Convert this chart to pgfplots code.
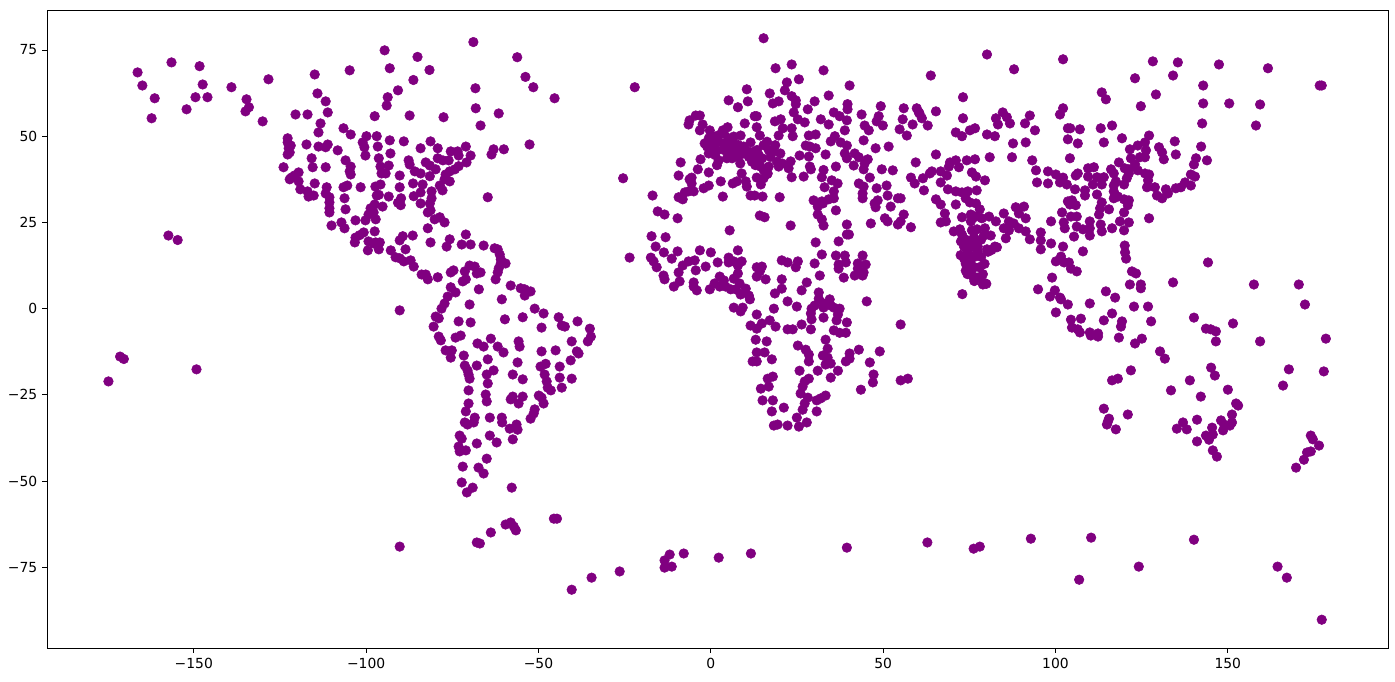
\documentclass[border=0pt]{standalone}
\usepackage{fontspec}
\setmainfont{DejaVu Sans}
\usepackage{pgfplots}
\pgfplotsset{compat=1.18}
\definecolor{pur}{RGB}{128,0,128}
\begin{document}
\begin{tikzpicture}
\useasboundingbox (-33.84pt,-23.76pt) rectangle ++(1004.4pt,490.32pt);
\begin{axis}[
 at={(0,0)},anchor=south west,scale only axis,
 width=965.52pt,height=459.36pt,
 xmin=-192.6,xmax=196.5,ymin=-98.4,ymax=86.6,
 xtick={-150,-100,-50,0,50,100,150},
 xticklabels={−150,−100,−50,0,50,100,150},
 ytick={-75,-50,-25,0,25,50,75},
 yticklabels={−75,−50,−25,0,25,50,75},
 tick align=outside,tick pos=left,
 major tick length=3.5pt,
 every tick/.style={black,line width=0.65pt},
 axis line style={line width=0.65pt},
 tick label style={font=\fontsize{10}{12}\selectfont},
 x filter/.expression={x*0.9942-0.09},
 clip=false,
]
\addplot[only marks,mark=*,mark size=3.45pt,color=pur,mark options={fill=pur,draw=pur,line width=0.4pt}] coordinates {
(-167.2,68.5)(-165.8,64.7)(-162.2,61)(-163.1,55.2)(-157.3,71.4)(-149.1,70.3)(-148.2,65)(-150.3,61.3)(-146.8,61.3)(-152.9,57.8)
(-139.8,64.2)(-129,66.5)(-135.4,60.7)(-134.7,58.4)(-135.7,57.2)(-130.7,54.3)(-115.5,67.9)(-114.7,62.4)(-112.3,60.1)(-111.7,56.9)
(-121.1,56.3)(-117.6,56.3)(-113.8,53.7)(-114.4,51.1)(-105.3,69.1)(-95.1,74.9)(-93.6,69.7)(-91.2,63.3)(-94.2,61.3)(-94.5,58.9)
(-98,55.8)(-107.1,52.3)(-105,50.5)(-123.4,49.4)(-123.4,48.2)(-122.5,47.3)(-123.1,46.5)(-122.8,45.3)(-123.4,44.7)(-117.9,47.6)
(-114.4,47)(-111.7,47.6)(-112.3,46.8)(-108.8,45.9)(-116.4,43.6)(-116.1,41)(-112.3,41)(-106.5,43)(-105,41.2)(-105.3,39.8)
(-105,38.9)(-124.6,41)(-120.2,39.5)(-121.4,38.6)(-122.3,38)(-122.8,37.5)(-120.2,36.9)(-115.5,36.3)(-112,35.2)(-112.3,33.4)
(-111.2,32.3)(-111.2,30.8)(-111.2,29.1)(-111.2,27.9)(-110.6,24.1)(-107.7,25)(-106.8,23.3)(-106.8,32)(-106.5,28.8)(-107.1,35.2)
(-106,35.7)(-102.1,35.2)(-103.6,25.6)(-100.7,25.6)(-97.7,25.9)(-98,22.4)(-101.2,22.1)(-102.4,21.3)(-103.6,20.6)(-119.7,34.6)
(-117.6,34)(-117.3,32.5)(-115.8,32.8)(-158.2,21.2)(-155.5,19.9)(-100.4,50)(-97.4,50)(-101.5,48.2)(-101,46.8)(-100.7,44.4)
(-97.1,47)(-93.6,48.8)(-93.4,45)(-96.8,43.6)(-96.3,41.2)(-93.9,41.5)(-96,39.2)(-94.8,39.2)(-90.7,38.6)(-97.8,35.4)
(-96.3,36)(-97.4,32.8)(-93.9,32.5)(-90.7,35.2)(-91.2,30.7)(-95.7,29.6)(-98,30.2)(-99.2,29.1)(-98.3,27.9)(-99.8,27.3)
(-96.8,33)(-90.3,32)(-90.4,30)
(-89.5,48.5)(-84.6,46.5)(-81.7,48.5)(-79.6,46.5)(-75.8,45.6)(-73.8,45.6)(-73.5,44.4)(-71.4,47)(-70,44.4)(-71.2,42.4)
(-63.3,46.2)(-63.9,44.7)(-60.3,46.2)(-52.8,47.6)(-68.5,58.1)(-61.8,56.6)(-67.1,53.1)(-77.9,55.5)(-87.8,56)
(-69.2,77.3)(-68.6,63.9)(-56.4,72.9)(-54,67.2)(-51.7,64.2)(-45.5,61)(-85.5,73)(-82,69.2)(-86.7,66.3)
(-79.6,43.6)(-78.1,43)(-76.4,43)(-88.1,43)(-87.8,41.8)(-83.1,42.4)(-81.9,41.5)(-80.2,40.4)(-86.3,39.8)(-84.6,39.2)
(-81.9,38.4)(-73.5,41.3)(-74.6,40.4)(-76.1,39.8)(-77.3,38.9)(-77.6,37.5)(-76.1,36.9)(-79,35.7)(-78.2,34.3)(-86.8,36.3)
(-84,36)(-84.6,33.7)(-86.6,32.6)(-81.4,34)(-81.4,32)(-81.9,30.5)(-84.6,30.5)(-81.7,28.5)(-82.5,27.9)(-80.5,25.9)
(-79,26.5)(-77.6,25)(-65,32.3)(-82.5,23.3)(-86.9,21.2)(-89.8,21)(-90.7,19.8)(-89,17.2)(-81.7,19.2)(-76.1,20.1)
(-77,18)(-71.4,21.5)(-72.6,18.6)(-70,18.6)(-66.2,18.3)(-63,17.5)(-62.1,17.2)(-61.5,15.7)(-61.2,14.3)(-59.8,13.1)
(-61.2,13.1)(-61.8,11.7)(-62.1,10.5)(-62.7,8.5)(-93.3,16.9)(-91.9,14.9)(-90.7,14.6)(-89.5,13.7)(-87.5,14)(-86.6,12.2)
(-84.3,9.9)(-83.1,9.9)(-82.5,8.5)(-79.6,9.1)(-75.8,10.5)(-75,11.1)(-71.7,10.8)(-70.3,12.5)(-68.8,12.2)(-68.2,10.2)
(-67.1,10.5)(-71.4,8.5)(-72.3,7.9)(-75.8,6.2)(-74.4,4.7)(-76.7,3.5)(-67.6,5.6)(-58.3,6.7)(-55.4,5.9)(-54.2,5.6)
(-52.5,5)(-54.2,3.8)(-60.9,2.7)(-70.3,1.2)(-77.6,1.5)(-78.5,0)(-90.7,-0.5)(-51.3,0)(-48.7,-1.4)(-44.3,-2.5)
(-38.8,-3.7)(-54.8,-2.5)(-60,-3.1)(-80.2,-2.3)(-79.3,-2.8)(-73.5,-3.7)(-70,-4)
(-103.8,19.2)(-99.8,19.5)(-96.5,19.2)(-100,16.9)(-96.8,17.2)(-98.3,18.9)(-97.7,19.2)
(-80.8,-5.2)(-49.3,-5.5)(-43.4,-4.9)(-42.5,-5.2)(-35.2,-5.8)(-34.9,-8.1)(-35.8,-9.5)(-40.5,-9.5)(-79.3,-8.1)(-78.7,-9.2)
(-74.4,-8.4)(-72.9,-7.8)(-68,-10.1)(-66.2,-11)(-64.1,-8.7)(-62.1,-11)(-60.4,-12.7)(-56,-9.5)(-55.7,-11)(-49.3,-12.4)
(-45.2,-12.1)(-39,-12.4)(-38.5,-13)(-40.8,-15)(-77.3,-12.1)(-75.5,-12.1)(-75.8,-14.2)(-72,-13.6)(-65,-14.7)(-56.3,-15.6)
(-49.6,-16.8)(-48.1,-16)(-44,-16.8)(-71.7,-16.5)(-70.9,-17.9)(-68.2,-16.5)(-63.3,-17.9)(-65.3,-19.1)(-70.6,-19.1)(-70.3,-20.3)
(-57.7,-19.1)(-54.8,-20.5)(-48.4,-19.1)(-47.8,-21.1)(-44,-20)(-40.5,-20.3)(-65,-21.7)(-47.5,-22.9)(-46.6,-23.7)(-43.4,-22.9)
(-70.6,-23.7)(-65.6,-24.9)(-65.3,-26.9)(-57.7,-25.5)(-58.3,-26.3)(-54.8,-25.5)(-56,-27.5)(-50.1,-25.2)(-49.3,-25.8)(-48.7,-27.5)
(-70.6,-27.5)(-71.4,-29.8)(-51.3,-29.2)(-51.6,-30.4)(-52.5,-31.9)(-68.8,-31.6)(-64.4,-31.6)(-60.9,-31.6)(-60.8,-33)(-71.7,-33)
(-70.9,-33.6)(-69.1,-33)(-58.6,-34.8)(-56.6,-33.6)(-56.3,-35.1)(-73.2,-36.8)(-72.6,-37.7)(-64.4,-36.8)(-57.7,-37.9)(-62.4,-38.8)
(-68.2,-39.1)(-73.5,-40)(-71.4,-41.1)(-73.2,-41.4)(-65.3,-43.5)(-72.3,-45.8)(-67.7,-46.1)(-66.2,-47.8)(-72.6,-50.4)(-69.4,-51.9)
(-71.1,-53.3)(-58,-51.9)
(15.5,78.4)(-22.1,64.2)(19,69.7)(23.7,70.8)(33,69.1)(25.8,66.5)(22.3,65.6)(21.7,63.3)(40.6,64.7)(17.3,62.4)
(10.6,63.6)(34.5,61.8)(23.7,61.6)(24.9,60.4)(24.9,59.3)(30.4,60.1)(28.4,57.8)(40,59.3)(40,57.8)(49.7,58.7)
(56.4,58.1)(60.2,58.1)(61,56.6)(5.3,60.4)(10.9,60.1)(8,58.4)(18.2,59.5)(19.9,60.1)(12.9,55.8)(13.5,55.8)
(24.3,56.9)(25.5,54.9)(27.5,54)(36,56.9)(37.7,55.8)(39.8,54.6)(44.1,56.3)(49.1,55.8)(48.5,54.3)(50.3,53.1)
(56.1,54.9)(59,53.4)(55.2,52)(57.3,50.2)(32.2,54.9)(34.5,53.4)(39.2,51.7)(45,53.1)(46.2,51.7)(18.8,54.3)
(20.5,54.9)(10,53.7)(-4.3,56)(-3.1,56)(-6.1,54.6)(-6.4,53.4)(-2.3,53.4)(-3.1,51.7)(-0.2,51.7)(5,52.6)
(3.6,51.7)(13.5,52.6)(14.4,50.2)(21.1,52.3)(23.7,52.3)(24,50)(19.9,50.2)(28.7,50.2)(30.7,50.5)(36.3,50)
(35.1,48.5)(8.8,50.2)(11.7,48.2)(44.7,48.8)(48.2,46.5)(52,47)(27.8,47.3)(29,47)(30.7,46.5)(38,48.2)
(39.8,47.3)(39.2,45)(33.6,44.7)(26,44.4)(28.7,44.1)(42.1,45)(43.3,43.9)(45.9,43.3)(39.8,43.6)(41.8,41.5)
(45,42.1)(44.7,40.4)(59.9,42.4)(50,40.4)(53.2,40.1)(58.5,38)(59.6,36.3)(46.5,38)(43.3,36.3)(44.7,35.4)
(44.4,33.4)(44.4,32)(48.5,34.9)(51.4,35.7)(51.7,32.8)(54.7,32)(52.6,29.6)(48.8,31.4)(47.9,30.5)(48.2,29.4)
(56.4,27.3)(55.5,25.3)(54.7,24.4)(58.5,23.6)(50.9,26.2)(51.7,25.3)(46.8,24.7)(36.6,41.2)(33,40.2)(32.5,38.1)
(29,41.2)(29.3,40.4)(27.2,38.3)(23.7,38.1)(23.4,42.7)(22.8,40.7)(35.4,37.2)(37.1,36.3)(33.3,35.2)(36,34)
(36,32)(34.5,31.7)(32.5,31.1)(30.1,31.4)(31.3,29.6)(32.8,30.5)(36.6,28.5)(31.3,27.3)(32.5,25.9)(33,24.1)
(39.8,24.4)(23.4,24.1)(30.7,19.2)(37.4,19.5)(39.8,21.5)(40.4,21.5)(20.2,32.3)(11.7,32.8)(12.9,32.8)(15.2,32.5)
(3.6,32.5)(-16.9,32.8)(-9.6,26.2)(-15.4,28.2)(-13.4,27.3)(14.4,27)(15.8,26.5)(5.6,22.7)(-17.2,21)(-13.1,20.7)
(-9.3,32.3)(-8.1,31.7)(-7.5,33.7)(-6.4,34)(-4.9,34)(-2,34.9)(-0.5,35.7)(-5.5,38)(-6.1,37.5)(-5.5,36.3)
(-9.3,38.6)(-8.7,42.4)(-3.7,40.4)(-0.5,39.5)(-2.9,43.3)(3,36.9)(6.5,36.3)(7.7,36.9)(9.1,39.2)(10.3,36.9)
(10.6,35.4)(13.5,38)(14.7,36)(15.5,37.8)(16.7,39.2)(17,41.2)(-25.5,37.8)
(-1.7,47.9)(-0.5,49.4)(1,49.9)(2.4,50.3)(3.9,50.8)(5.3,49.4)(6.8,49.9)(1,47.9)(2.4,48.4)(3.9,47.9)
(5.3,47.4)(6.8,47.9)(8.2,47.4)(9.7,47)(-1,47)(0.5,46.5)(1.9,46)(3.9,46)(5.3,45.5)(6.8,46)
(8.2,45.5)(9.7,45)(11.2,45.5)(12.6,45.5)(14.1,44.5)(-0.5,45)(1.4,44.5)(2.4,43)(1.9,41.6)(4.8,43.6)
(6.3,43.6)(8.2,44)(8.7,42.1)(11.2,44)(12.1,42.6)(13.1,41.6)(14.6,41.2)(15.1,43.6)(16.5,48.4)(15.5,47.4)
(18.9,47.4)(17,46)(18.5,45.5)(20.4,45)(17.5,44)(19.4,42.6)(20.9,42.1)(19.9,41.2)(12.6,44)(13.6,46)
(14.1,42.6)(15.5,40.2)(16.5,39)
(-23.6,14.8)(-16,18)(-13.6,16.3)(-9.6,16.6)(-3.1,16.9)(0.1,16.3)(8,16.9)(-17.4,14.8)(-16.6,13.7)(-15.7,12)
(-11.3,14.5)(-8.1,12.5)(-6.4,13.7)(-4.6,14)(-9.3,10.5)(-13.7,9.6)(-13.4,8.5)(-10.7,6.4)(-9,7.9)(-4.3,11.1)
(-1.4,12.2)(2.1,13.4)(5.3,14.8)(5.3,13.4)(6.8,13.7)(9.1,13.7)(8,12.5)(8,10.2)(6.8,8.7)(-4.9,7.6)
(-4.9,6.4)(-4,5.3)(-0.2,5.6)(1.2,7.3)(2.7,9.3)(3.9,8.2)(2.7,6.4)(4.4,6.4)(5.9,5.6)(7.4,5.6)
(8.5,7.3)(10.3,5.8)(8.8,4.1)(11.2,3.8)(11.5,2.7)(6.8,0.3)(9.4,0.3)(8.8,-0.8)(13.5,-1.7)(18.5,0)
(22.5,2.1)(25.2,0.6)(13.5,12)(15,12.2)(14.4,10.8)(13.5,9.3)(16.1,8.5)(20.8,14)(22.5,13.4)(25.5,13.7)
(24.9,12)(20.8,8.5)(20.8,5.8)(18.8,4.4)(28.1,7.6)(26.6,5.3)(30.4,13.1)(32.5,15.7)(31.9,9.6)(36.6,15.4)
(39.2,15.4)(37.4,12.8)(37.4,11.6)(39.5,13.4)(44.4,15.4)(38.9,9)(42.1,9.6)(43,13.1)(45.3,12.8)(43,11.6)
(44.7,10.5)(44.4,9.6)(45.6,2.1)(31.6,4.7)(31.6,2.9)(34.8,2.7)(33,1.5)(35.1,0.9)(37.7,0)(29.5,0)
(30.4,0.9)(29.3,-1.4)(29.5,-3.1)(33,-2.6)(37.2,-1.7)(36.8,-3.4)(39.8,-4)(36,-6.3)(37.7,-7)(39.5,-7)
(55.5,-4.6)(11.7,-4.9)(13.5,-5.8)(15,-4.3)(17.3,-3.4)(19,-5.2)(22.5,-6)(24,-6)(26.6,-4.6)(29.3,-6)
(13.2,-9)(16.4,-9.5)(33.6,-9)(25.5,-10.7)(27.8,-11.9)(34.2,-11.6)(28.7,-13.3)(13.5,-12.7)(15.8,-12.7)(17.9,-14.7)
(12.3,-15.3)(13.5,-15.3)(32.8,-13.6)(34.2,-14.2)(28.7,-15.3)(40.6,-13)(43.3,-11.9)(49.4,-12.4)(40.6,-14.5)(39.5,-15.3)
(33.6,-16.2)(35.1,-15.9)(46.5,-15.6)(26,-18)(31.3,-18)(37.2,-18)(35.1,-20)(47.6,-19.1)(47.4,-21.4)(55.5,-20.8)
(57.6,-20.3)(43.9,-23.5)(18.2,-19.7)(16.7,-20.3)(17,-22.6)(14.7,-23.2)(28.7,-20.3)(27.5,-21.1)(26.9,-22.6)(26.3,-24.6)
(28.4,-25.8)(33.6,-25.2)(32.2,-26)(31,-26.6)(15.2,-26.6)(18.2,-26.6)(27.5,-27.5)(21.4,-28.7)(17.9,-29.8)(26.9,-29.3)
(31,-29.8)(25.2,-31.6)(28.1,-33)(18.5,-33.9)(19.6,-33.6)(22.5,-33.9)(25.8,-34.2)(33,0.3)(36,0.3)
(80.7,73.7)(88.6,69.4)(64.3,67.6)(102.9,72.3)(129.1,71.7)(136.4,71.4)(123.9,66.8)(135,67.6)(114.2,62.7)(115.4,60.7)
(130,62.1)(125.6,58.7)(73.7,61.3)(60.8,56.9)(61.7,55.2)(65.8,57.2)(63.4,53.1)(73.7,55.2)(71.6,51.1)(73.4,50)
(75.7,51.7)(77.2,52.3)(80.7,50.5)(83,50)(83.3,55.2)(85.3,56.9)(86.5,55.5)(87.4,53.7)(83.9,53.4)(91.8,53.7)
(93.2,56)(94.7,51.7)(88.3,47.9)(92,48.2)(88,43.9)(81.5,43.9)(93.9,43)(102,56.3)(102.9,58.1)(104.3,52.3)
(105,52.3)(107.8,52)(113.9,52.3)(117.2,53.1)(104.3,49.1)(107.2,47.9)(114.8,48.2)(120.1,49.4)(104.9,43.6)(65.8,44.7)
(128,50.2)(126.8,48.2)(124.7,47.3)(122.4,46.2)(127.1,45.9)(130.9,46.8)(131.8,45.3)(132.3,43.3)(135.5,48.5)(135.8,44.7)
(122.7,43.6)(125.3,43.9)(126.8,43.9)(119.2,42.4)(123.9,41.8)(124.7,40.1)(126.8,39.2)(128,38.9)(141.7,43.6)(141.1,41.8)
(140.2,38.9)(141.4,38.3)(140.2,35.7)(138.5,36.6)(137.3,35.2)(135.8,34.9)(132.9,34.6)(133.5,33.4)(131.8,32)(130.3,32.8)
(129.7,35.2)(127.4,35.2)(127.7,37.2)(122.1,40.4)(120.9,40.7)(122.1,39.2)(121.5,37.8)(116.9,40.4)(117.7,39.2)(120.7,36)
(118.3,36.9)(117.7,35.7)(110.2,40.7)(111.9,41)(107.2,39.2)(106.6,38.6)(110.2,38.3)(112.8,38.1)(114.8,38.1)(98.5,39.8)
(100.8,38.9)(102.9,38)(95,40.1)(95.3,36.6)(98.5,36.3)(102,36.6)(104,36)(106.4,34.6)(109.3,34.3)(109.3,32.8)
(111.6,36)(114.2,36)(112.8,33.1)(117.7,34)(117.7,32)(118.9,32.5)(120.7,31.7)(122.1,31.4)(121.8,30)(120.7,27.9)
(114.2,30.8)(113.7,29.1)(116.3,28.8)(113.4,27.3)(104.3,31.1)(105.5,31.4)(106.6,30)(104.9,30.2)(102.6,27.9)(105.2,26.7)
(106.9,26.7)(99.4,25.3)(103.1,25)(103.4,23.3)(106.9,23.8)(108.7,23)(110.7,25.3)(110.7,23.3)(113.9,24.4)(114.2,22.4)
(110.7,21.2)(106.1,20.9)(117.2,23.3)(119.5,25.3)(122.1,25)(120.7,22.7)(128,26.2)(96.4,22.1)(96.4,19.8)(99.4,18.9)
(102.9,18)(96.4,17.2)(120.9,18.3)(93.2,20.1)(86.2,20.4)(83.6,17.8)(62.3,34.3)(62,37.8)(64.6,39.8)(67.2,39.8)
(64,39.2)(69,38.6)(67.2,36.6)(69.6,41.2)(69.9,42.4)(71.6,43)(72.5,41)(74.8,43)(77.2,43.3)(76.3,39.5)
(77.5,38.3)(80.1,37.2)(69.3,34.6)(71.6,34)(73.4,33.7)(75.1,34)(77.7,34.3)(65.8,31.7)(67.2,30.2)(71.6,30.2)
(74.5,32)(75.7,30.8)(77.5,30.5)(78.6,28.8)(68.4,27.6)(67.2,25)(68.7,25.3)(73.4,26.5)(76,27.3)(77.5,26.7)
(76,25.3)(79.2,26.2)(81.3,26.7)(83.3,25.3)(85.6,27.6)(89.1,29.4)(91.5,29.6)(90,27.6)(92,26.2)(87.1,25.3)
(88.5,24.7)(85.6,23.3)(87.1,22.7)(90,23.3)(92,22.4)(71,22.4)(72.8,23)(73.4,21.5)(76.3,22.7)(77.8,23)
(80.1,23.3)(79.8,21.2)(81.8,21.2)(76.9,20.7)(73.1,19.5)(74.5,19.2)(76.3,19.5)(78,19.2)(74.5,17.8)(76.9,17.8)
(80.7,17.2)(55.5,32)(108.7,16.6)
(121,16.3)(121.3,14.5)(102.3,15.1)(100.8,13.7)(103.2,13.4)(104.6,13.4)(105.2,11.6)(106.9,10.8)(99.7,9)(95.6,5.6)
(100.5,5.3)(99.1,3.5)(102,3.2)(102.3,2.7)(104.3,1.2)(110.7,1.5)(100.8,-1.1)(105.2,-3.2)(108.1,-2.9)(105.5,-5.5)
(107.2,-6)(107.8,-6.9)(110.7,-6.9)(111,-7.8)(113.1,-7.2)(113.1,-8.1)(114.8,-3.4)(117.2,-1.4)(115.4,5)(118.1,3.2)
(122.4,7)(125.6,7)(125.6,5.9)(123,10.8)(124.2,10.2)(135,7.6)(145.2,13.4)(158.6,7)(171.7,7)(173.5,1.2)
(123.6,0.6)(127.7,0.6)(128.6,-3.7)(120.1,-3.7)(119.8,-5.2)(119.2,-8.4)(125.9,-8.7)(123.9,-10.1)(131.2,-12.4)(132.6,-14.5)
(141.1,-2.6)(144.6,-5.8)(146,-6)(147.5,-6.6)(147.5,-9.5)(152.5,-4.3)(160.4,-9.5)(122.7,-17.9)(118.9,-20.3)(117.2,-20.8)
(146.1,-17.1)(147.2,-19.4)(139.9,-20.8)(134.4,-23.7)(143.1,-25.5)(151,-23.5)(168.8,-17.6)(167.1,-22.3)(153.4,-27.5)(154,-28.1)
(114.8,-29)(121.8,-30.7)(116.3,-31.9)(115.7,-33.6)(116,-32.7)(118.3,-35)(152.2,-30.7)(142,-32.2)(137.9,-33)(136.1,-34.8)
(139,-35)(146.4,-34.5)(149,-32.4)(149.9,-33.6)(152.2,-33)(151.6,-33.9)(149.6,-35.3)(146.6,-36.5)(144.6,-36.8)(145.5,-38)
(142,-38.5)(146.6,-41.1)(147.8,-42.9)(179.6,-8.7)(179,-18.2)(175.2,-36.8)(175.8,-37.9)(177.6,-39.7)(175.2,-41.4)(174.1,-41.7)
(173.2,-43.8)(170.9,-46.1)
(-90.7,-69)(-68.2,-67.8)(-67.3,-68.1)(-64.1,-64.9)(-59.8,-62.6)(-58.3,-62)(-57.4,-63.2)(-56.8,-64.3)(-45.7,-60.9)(-44.8,-60.9)
(-40.5,-81.5)(-34.7,-78)(-26.5,-76.2)(-13.4,-73)(-11.9,-71.3)(-7.8,-71)(-13.4,-75.1)(-11.3,-74.8)(2.4,-72.2)(11.8,-71)
(39.8,-69.3)(63.3,-67.8)(76.8,-69.6)(78.6,-69)(93.5,-66.7)(111.1,-66.4)(107.6,-78.6)(125,-74.8)(141.1,-67)(165.5,-74.8)
(168.2,-78)(178.4,-90.2)
(-172.3,-13.9)(-171.2,-14.6)(-175.7,-21.1)(-150,-17.6)
(148.4,70.8)(162.7,69.7)(143.8,64.7)(177.8,64.7)(178.4,64.7)(143.8,59.5)(151.4,59.5)(160.4,59.2)(143.5,53.7)(159.2,53.1)
(143.2,47)(144.9,43)
(73.5,4.2)(73,15.5)(74,14.5)(75,17)(74.5,13)(75.5,15.5)(76,13)(77,15)(77,12)(78,16.5)
(76,11)(75,10)(76.5,9.5)(78,9)(77,8)(79.5,10)(79.5,7)(80.5,7.2)
(80,13)(79,15)(81,16.5)(82,17)(83,18)(78,18)(74,18)(73.5,19.5)(74.5,20)
(79,20)(79.8,7.5)(78.5,12)(74.5,11)
};
\end{axis}
\end{tikzpicture}
\end{document}
